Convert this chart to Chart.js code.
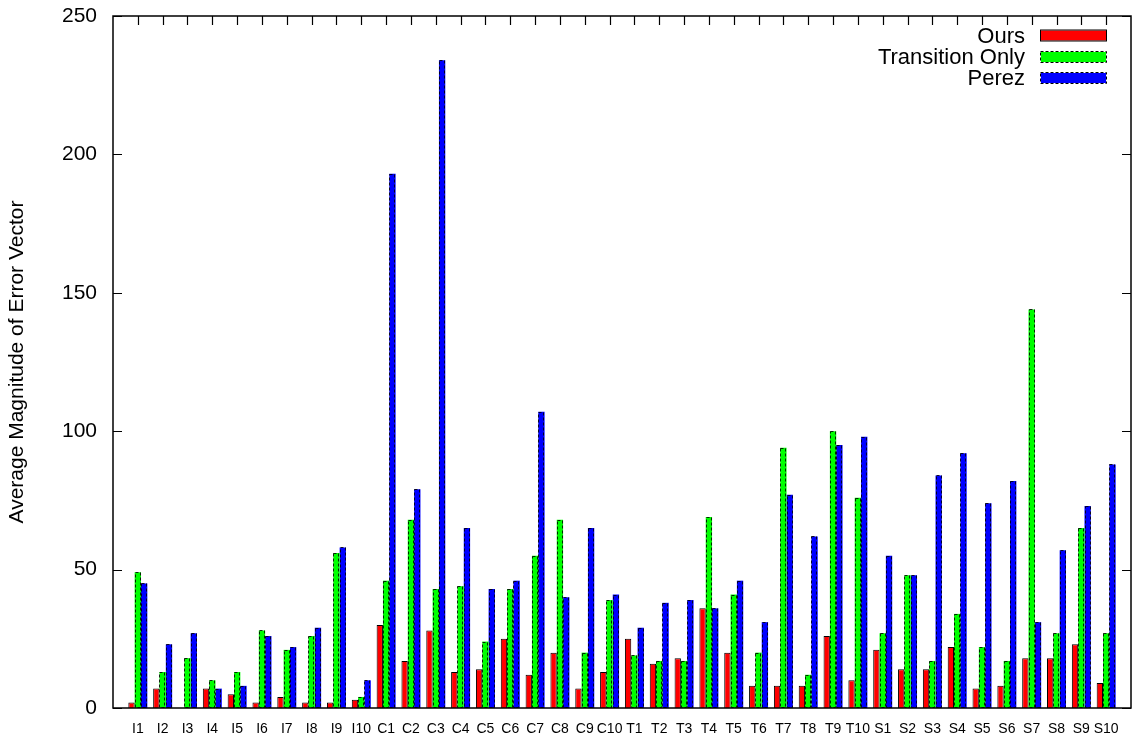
<!DOCTYPE html>
<html>
<head>
<meta charset="utf-8">
<script src="https://cdn.jsdelivr.net/npm/chart.js@4.4.1/dist/chart.umd.min.js"></script>
<style>
  html, body { margin: 0; padding: 0; background: #fff; }
  #wrap { width: 1132px; height: 736px; position: relative; }
</style>
</head>
<body>
<div id="wrap"><canvas id="chart"></canvas></div>
<script>
const categories = [
  'I1','I2','I3','I4','I5','I6','I7','I8','I9','I10',
  'C1','C2','C3','C4','C5','C6','C7','C8','C9','C10',
  'T1','T2','T3','T4','T5','T6','T7','T8','T9','T10',
  'S1','S2','S3','S4','S5','S6','S7','S8','S9','S10'
];
const ours = [
  2, 7, 0, 7, 5, 2, 4, 2, 2, 3,
  30, 17, 28, 13, 14, 25, 12, 20, 7, 13,
  25, 16, 18, 36, 20, 8, 8, 8, 26, 10,
  21, 14, 14, 22, 7, 8, 18, 18, 23, 9
];
const transitionOnly = [
  49, 13, 18, 10, 13, 28, 21, 26, 56, 4,
  46, 68, 43, 44, 24, 43, 55, 68, 20, 39,
  19, 17, 17, 69, 41, 20, 94, 12, 100, 76,
  27, 48, 17, 34, 22, 17, 144, 27, 65, 27
];
const perez = [
  45, 23, 27, 7, 8, 26, 22, 29, 58, 10,
  193, 79, 234, 65, 43, 46, 107, 40, 65, 41,
  29, 38, 39, 36, 46, 31, 77, 62, 95, 98,
  55, 48, 84, 92, 74, 82, 31, 57, 73, 88
];
const yTicks = [0, 50, 100, 150, 200, 250];
const seriesNames = ['Ours', 'Transition Only', 'Perez'];
const seriesColors = ['#ff0000', '#00ff00', '#0000ff'];

const FONT = '"Liberation Sans", Arial, Helvetica, sans-serif';
const toPoints = (arr) => arr.map((y, i) => ({ x: i, y }));

// gnuplot-like frame, inward ticks, dashed outlines and legend
const gnuplotLook = {
  id: 'gnuplotLook',
  beforeDatasetsDraw(chart) {
    const { ctx, chartArea: a, scales: { x, y } } = chart;
    ctx.save();
    ctx.strokeStyle = '#000';
    ctx.lineWidth = 1.2;
    ctx.beginPath();
    categories.forEach((_, i) => {
      const px = Math.round(x.getPixelForValue(i)) + 0.5;
      ctx.moveTo(px, a.top); ctx.lineTo(px, a.top + 9);
      ctx.moveTo(px, a.bottom); ctx.lineTo(px, a.bottom - 9);
    });
    yTicks.forEach(v => {
      const py = Math.round(y.getPixelForValue(v)) + 0.5;
      ctx.moveTo(a.left, py); ctx.lineTo(a.left + 9, py);
      ctx.moveTo(a.right, py); ctx.lineTo(a.right - 9, py);
    });
    ctx.stroke();
    ctx.restore();
  },
  afterDatasetsDraw(chart) {
    const { ctx, chartArea: a } = chart;
    ctx.save();
    // dashed outlines for the second and third series
    [1, 2].forEach(di => {
      const meta = chart.getDatasetMeta(di);
      ctx.strokeStyle = 'rgba(0,0,0,0.85)';
      ctx.lineWidth = 1;
      ctx.setLineDash([3, 2]);
      meta.data.forEach(bar => {
        const { x, y, base, width } = bar.getProps(['x', 'y', 'base', 'width'], true);
        if (base - y < 0.5) return;
        ctx.strokeRect(Math.round(x - width / 2) + 0.5, Math.round(y) + 0.5,
          Math.round(width) - 1, Math.round(base - y) - 1);
      });
    });
    ctx.setLineDash([]);
    // frame
    ctx.strokeStyle = '#000';
    ctx.lineWidth = 1.5;
    ctx.strokeRect(a.left, a.top, a.right - a.left, a.bottom - a.top);

    // legend
    ctx.font = '22px ' + FONT;
    ctx.textAlign = 'right';
    ctx.textBaseline = 'middle';
    const rows = [35.5, 57, 78];
    seriesNames.forEach((name, i) => {
      const cy = rows[i];
      ctx.fillStyle = '#000';
      ctx.fillText(name, 1025, cy + 1);
      ctx.fillStyle = seriesColors[i];
      ctx.fillRect(1041, cy - 5, 65, 10);
      ctx.lineWidth = 1;
      ctx.strokeStyle = '#000';
      ctx.setLineDash(i === 0 ? [] : [3, 2]);
      ctx.strokeRect(1040.5, cy - 5.5, 66, 11);
    });
    ctx.restore();
  }
};

new Chart(document.getElementById('chart'), {
  type: 'bar',
  data: {
    datasets: [
      {
        label: seriesNames[0],
        data: toPoints(ours),
        backgroundColor: seriesColors[0],
        borderColor: '#000',
        borderWidth: 1,
      },
      {
        label: seriesNames[1],
        data: toPoints(transitionOnly),
        backgroundColor: seriesColors[1],
        borderWidth: 0,
      },
      {
        label: seriesNames[2],
        data: toPoints(perez),
        backgroundColor: seriesColors[2],
        borderWidth: 0,
      },
    ],
  },
  options: {
    responsive: true,
    maintainAspectRatio: false,
    animation: false,
    barPercentage: 1,
    categoryPercentage: 0.765,
    layout: { padding: { left: 0, top: 16, right: 1, bottom: 0 } },
    plugins: {
      legend: { display: false },
      tooltip: { enabled: false },
    },
    scales: {
      x: {
        type: 'linear',
        min: -1,
        max: 40,
        offset: false,
        grid: { display: false, drawTicks: false },
        border: { display: false },
        afterFit: (s) => {
          s.height = 28;
          s.paddingLeft = 0;
          s.paddingRight = 0;
        },
        afterBuildTicks: (s) => {
          s.ticks = categories.map((_, i) => ({ value: i }));
        },
        ticks: {
          autoSkip: false,
          maxRotation: 0,
          minRotation: 0,
          padding: 13,
          color: '#000',
          font: { family: FONT, size: 14 },
          callback: (v) => categories[v] ?? '',
        },
      },
      y: {
        min: 0,
        max: 250,
        grid: { display: false, drawTicks: false },
        border: { display: false },
        afterFit: (s) => {
          s.width = 113;
          s.paddingTop = 0;
          s.paddingBottom = 0;
        },
        ticks: {
          stepSize: 50,
          padding: 16,
          color: '#000',
          font: { family: FONT, size: 21 },
        },
        title: {
          display: true,
          text: 'Average Magnitude of Error Vector',
          color: '#000',
          font: { family: FONT, size: 21 },
          padding: { top: 5, bottom: 0 },
        },
      },
    },
  },
  plugins: [gnuplotLook],
});
</script>
</body>
</html>
